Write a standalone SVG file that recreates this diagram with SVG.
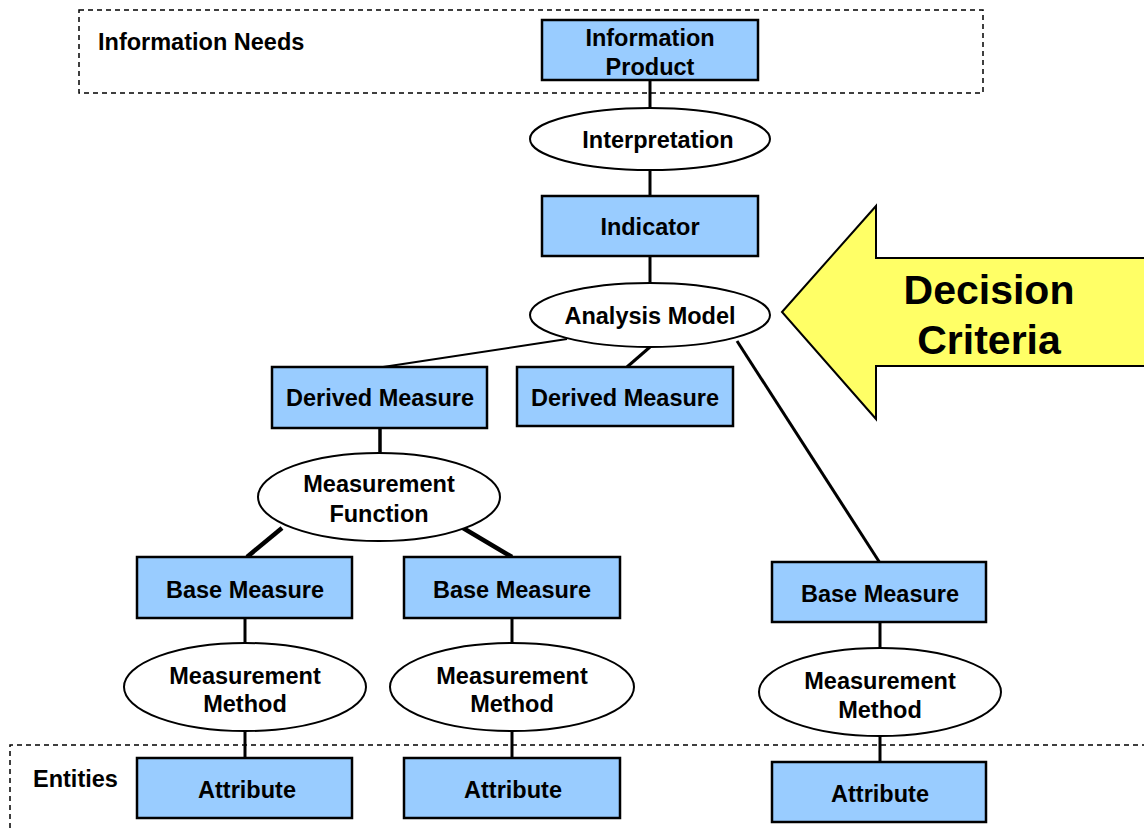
<svg xmlns="http://www.w3.org/2000/svg" width="1144" height="828" viewBox="0 0 1144 828">
<style>
.box{fill:#99CCFF;stroke:#000;stroke-width:2.5}
.ell{fill:#fff;stroke:#000;stroke-width:2}
.t{font-family:"Liberation Sans",Arial,sans-serif;font-weight:bold;font-size:23.5px;text-anchor:middle;fill:#000}
.lbl{font-family:"Liberation Sans",Arial,sans-serif;font-weight:bold;font-size:23.5px;fill:#000}
.dash{fill:none;stroke:#000;stroke-width:1.5;stroke-dasharray:5,4}
.c{stroke:#000;stroke-width:3;fill:none}
</style>
<rect width="1144" height="828" fill="#fff"/>
<g id="regions">
<rect class="dash" x="79" y="10" width="904" height="83"/>
<path class="dash" d="M10,828 V745 H1144"/>
<text class="lbl" x="98" y="50">Information Needs</text>
<text class="lbl" x="33" y="787">Entities</text>
</g>
<g id="connectors">
<line class="c" x1="650" y1="80" x2="650" y2="108"/>
<line class="c" x1="650" y1="170" x2="650" y2="196"/>
<line class="c" x1="650" y1="256" x2="650" y2="283"/>
<line class="c" x1="567" y1="339" x2="383" y2="367" style="stroke-width:2"/>
<line class="c" x1="650" y1="347" x2="627" y2="367"/>
<line class="c" x1="737" y1="341" x2="880" y2="563"/>
<line class="c" x1="380" y1="428" x2="380" y2="454" style="stroke-width:3.5"/>
<line class="c" x1="282" y1="528" x2="247" y2="557" style="stroke-width:4.5"/>
<line class="c" x1="463" y1="528" x2="512" y2="557" style="stroke-width:4.5"/>
<line class="c" x1="245" y1="618" x2="245" y2="644"/>
<line class="c" x1="512" y1="618" x2="512" y2="644"/>
<line class="c" x1="880" y1="622" x2="880" y2="649"/>
<line class="c" x1="245" y1="731" x2="245" y2="758"/>
<line class="c" x1="512" y1="731" x2="512" y2="758"/>
<line class="c" x1="880" y1="736" x2="880" y2="762"/>
</g>
<g id="information-product"><rect class="box" x="542" y="20" width="216" height="60"/><text class="t" x="650" y="46">Information</text><text class="t" x="650" y="75">Product</text></g>
<g id="interpretation"><ellipse class="ell" cx="650" cy="139" rx="120" ry="31"/><text class="t" x="658" y="148">Interpretation</text></g>
<g id="indicator"><rect class="box" x="542" y="196" width="216" height="60"/><text class="t" x="650" y="235">Indicator</text></g>
<g id="analysis-model"><ellipse class="ell" cx="650" cy="315" rx="120" ry="32"/><text class="t" x="650" y="324">Analysis Model</text></g>
<g id="derived-measure-1"><rect class="box" x="272" y="367" width="215" height="61"/><text class="t" x="380" y="406">Derived Measure</text></g>
<g id="derived-measure-2"><rect class="box" x="517" y="367" width="216" height="59"/><text class="t" x="625" y="406">Derived Measure</text></g>
<g id="measurement-function"><ellipse class="ell" cx="379" cy="497" rx="121" ry="44"/><text class="t" x="379" y="492">Measurement</text><text class="t" x="379" y="522">Function</text></g>
<g id="base-measure-1"><rect class="box" x="137" y="557" width="215" height="61"/><text class="t" x="245" y="598">Base Measure</text></g>
<g id="base-measure-2"><rect class="box" x="404" y="557" width="216" height="61"/><text class="t" x="512" y="598">Base Measure</text></g>
<g id="base-measure-3"><rect class="box" x="772" y="562" width="214" height="60"/><text class="t" x="880" y="602">Base Measure</text></g>
<g id="measurement-method-1"><ellipse class="ell" cx="245" cy="687" rx="121" ry="44"/><text class="t" x="245" y="684">Measurement</text><text class="t" x="245" y="712">Method</text></g>
<g id="measurement-method-2"><ellipse class="ell" cx="512" cy="687" rx="122" ry="44"/><text class="t" x="512" y="684">Measurement</text><text class="t" x="512" y="712">Method</text></g>
<g id="measurement-method-3"><ellipse class="ell" cx="880" cy="692" rx="121" ry="44"/><text class="t" x="880" y="689">Measurement</text><text class="t" x="880" y="718">Method</text></g>
<g id="attribute-1"><rect class="box" x="137" y="758" width="215" height="60"/><text class="t" x="247" y="798">Attribute</text></g>
<g id="attribute-2"><rect class="box" x="404" y="758" width="216" height="60"/><text class="t" x="513" y="798">Attribute</text></g>
<g id="attribute-3"><rect class="box" x="772" y="762" width="214" height="60"/><text class="t" x="880" y="802">Attribute</text></g>
<g id="decision-criteria">
<polygon points="782,312 876,206 876,258 1146,258 1146,366 876,366 876,419" fill="#FFFF66" stroke="#000" stroke-width="2"/>
<text class="t" x="989" y="304" style="font-size:41px">Decision</text>
<text class="t" x="989" y="354" style="font-size:41px">Criteria</text>
</g>
</svg>
